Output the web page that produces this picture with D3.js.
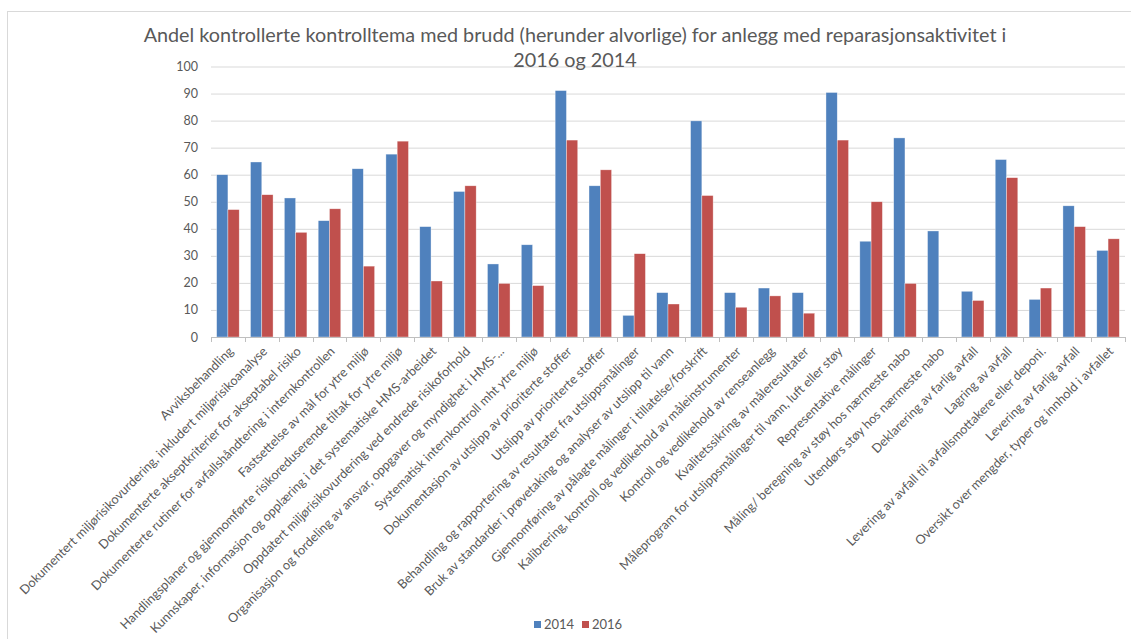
<!doctype html>
<html>
<head>
<meta charset="utf-8"/>
<title>Andel kontrollerte kontrolltema med brudd</title>
<script src="https://d3js.org/d3.v7.min.js"></script>
<style>
  body { margin: 0; background: #fff; }
  svg { display: block; font-family: Lato, "Open Sans", sans-serif; }
</style>
</head>
<body>
<script>
// kontrolltema (x-akse)
var categories = [
  "Avviksbehandling",
  "Dokumentert miljørisikovurdering, inkludert miljørisikoanalyse",
  "Dokumenterte akseptkriterier for akseptabel risiko",
  "Dokumenterte rutiner for avfallshåndtering i internkontrollen",
  "Fastsettelse av mål for ytre miljø",
  "Handlingsplaner og gjennomførte risikoreduserende tiltak for ytre miljø",
  "Kunnskaper, informasjon og opplæring i det systematiske HMS-arbeidet",
  "Oppdatert miljørisikovurdering ved endrede risikoforhold",
  "Organisasjon og fordeling av ansvar, oppgaver og myndighet i HMS-...",
  "Systematisk internkontroll mht ytre miljø",
  "Dokumentasjon av utslipp av prioriterte stoffer",
  "Utslipp av prioriterte stoffer",
  "Behandling og rapportering av resultater fra utslippsmålinger",
  "Bruk av standarder i prøvetaking og analyser av utslipp til vann",
  "Gjennomføring av pålagte målinger i tillatelse/forskrift",
  "Kalibrering, kontroll og vedlikehold av måleinstrumenter",
  "Kontroll og vedlikehold av renseanlegg",
  "Kvalitetssikring av måleresultater",
  "Måleprogram for utslippsmålinger til vann, luft eller støy",
  "Representative målinger",
  "Måling/ beregning av støy hos nærmeste nabo",
  "Utendørs støy hos nærmeste nabo",
  "Deklarering av farlig avfall",
  "Lagring av avfall",
  "Levering av avfall til avfallsmottakere eller deponi.",
  "Levering av farlig avfall",
  "Oversikt over mengder, typer og innhold i avfallet"
];

var values2014 = [60, 64.7, 51.4, 43, 62.2, 67.6, 40.8, 53.8, 27, 34.1,
                  91.1, 55.9, 8, 16.4, 79.9, 16.4, 18.1, 16.4, 90.4, 35.4,
                  73.6, 39.2, 16.9, 65.6, 13.9, 48.5, 32];
var values2016 = [47.1, 52.6, 38.7, 47.4, 26.2, 72.4, 20.7, 55.9, 19.8, 19,
                  72.8, 61.8, 30.8, 12.2, 52.3, 11, 15.2, 8.8, 72.8, 50,
                  19.8, 0, 13.5, 58.9, 18.1, 40.8, 36.3];

var seriesNames = ["2014", "2016"];
var colors = ["#4F81BD", "#C0504D"];

var titleLines = [
  "Andel kontrollerte kontrolltema med brudd (herunder alvorlige) for anlegg med reparasjonsaktivitet i",
  "2016 og 2014"
];

var W = 1131, H = 639;
var plotLeft = 211, plotRight = 1125, plotTop = 66.5, plotBottom = 337;

var svg = d3.select("body").append("svg")
  .attr("width", W)
  .attr("height", H);

// rammen rundt diagrammet
svg.append("rect")
  .attr("x", 7.5).attr("y", 11.5)
  .attr("width", 1200).attr("height", 800)
  .attr("fill", "none")
  .attr("stroke", "#D9D9D9");

var rows = categories.map(function (c, i) {
  return { cat: c, vals: [values2014[i], values2016[i]] };
});

var x0 = d3.scaleBand()
  .domain(categories)
  .range([plotLeft, plotRight])
  .paddingInner(1 / 3)
  .paddingOuter(1 / 6);

var x1 = d3.scaleBand()
  .domain(seriesNames)
  .range([0, x0.bandwidth()]);

var y = d3.scaleLinear()
  .domain([0, 100])
  .range([plotBottom, plotTop]);

// rutenett
svg.append("g")
  .attr("transform", "translate(" + plotLeft + ",0)")
  .call(d3.axisLeft(y).ticks(10).tickSize(-(plotRight - plotLeft)).tickFormat(""))
  .call(function (g) { g.select(".domain").remove(); })
  .call(function (g) {
    g.selectAll("line").attr("stroke", "#D9D9D9").attr("stroke-width", 1);
  });

// y-akse tekst
svg.append("g")
  .attr("transform", "translate(" + (plotLeft - 13) + ",0)")
  .call(d3.axisLeft(y).ticks(10).tickSize(0).tickPadding(0))
  .call(function (g) { g.select(".domain").remove(); })
  .call(function (g) {
    g.selectAll("text")
      .attr("fill", "#595959")
      .style("font-size", "12.5px")
      .style("font-family", "Lato, sans-serif");
  });

// søyler
var groups = svg.append("g").selectAll("g")
  .data(rows)
  .join("g")
  .attr("transform", function (d) { return "translate(" + x0(d.cat) + ",0)"; });

groups.selectAll("rect")
  .data(function (d) {
    return d.vals.map(function (v, k) { return { key: seriesNames[k], value: v, k: k }; });
  })
  .join("rect")
  .attr("x", function (d) { return x1(d.key); })
  .attr("y", function (d) { return y(d.value); })
  .attr("width", x1.bandwidth())
  .attr("height", function (d) { return y(0) - y(d.value); })
  .attr("fill", function (d) { return colors[d.k]; })
  .attr("stroke", "rgba(255,255,255,0.6)")
  .attr("stroke-width", 0.6);

// x-akse linje og tick-streker
var step = x0.step();
var tickPos = d3.range(categories.length + 1).map(function (i) {
  return x0(categories[0]) - step / 6 + i * step;
});

svg.append("line")
  .attr("x1", plotLeft).attr("x2", plotRight)
  .attr("y1", plotBottom + 0.5).attr("y2", plotBottom + 0.5)
  .attr("stroke", "#BFBFBF");

svg.append("g").selectAll("line")
  .data(tickPos)
  .join("line")
  .attr("x1", function (d) { return Math.round(d) + 0.5; })
  .attr("x2", function (d) { return Math.round(d) + 0.5; })
  .attr("y1", plotBottom)
  .attr("y2", plotBottom + 5)
  .attr("stroke", "#BFBFBF");

// kategoritekster, skrå
svg.append("g").selectAll("text")
  .data(categories)
  .join("text")
  .attr("transform", function (d) {
    var cx = x0(d) + x0.bandwidth() / 2;
    return "translate(" + (cx + 3) + "," + (plotBottom + 12) + ") rotate(-45)";
  })
  .attr("text-anchor", "end")
  .attr("dy", "0.35em")
  .attr("fill", "#595959")
  .style("font-size", "12.7px")
  .text(function (d) { return d; });

// tittel
svg.append("g").selectAll("text")
  .data(titleLines)
  .join("text")
  .attr("x", 575)
  .attr("y", function (d, i) { return 42 + i * 25; })
  .attr("text-anchor", "middle")
  .attr("fill", "#595959")
  .style("font-size", "19.8px")
  .text(function (d) { return d; });

// forklaring
var legend = svg.append("g").selectAll("g")
  .data(seriesNames)
  .join("g")
  .attr("transform", function (d, i) { return "translate(" + (534 + i * 48) + ",621)"; });

legend.append("rect")
  .attr("width", 7)
  .attr("height", 7)
  .attr("fill", function (d, i) { return colors[i]; });

legend.append("text")
  .attr("x", 10)
  .attr("y", 8)
  .attr("fill", "#595959")
  .style("font-size", "13px")
  .text(function (d) { return d; });
</script>
</body>
</html>
